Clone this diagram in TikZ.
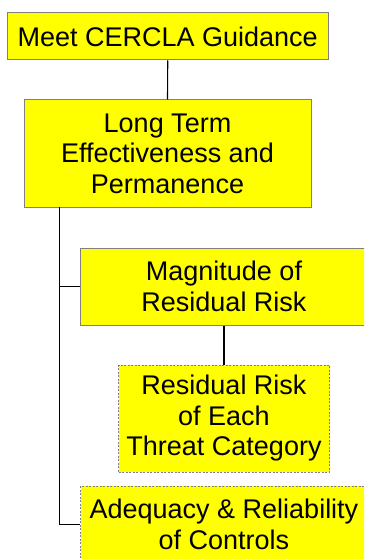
\documentclass[tikz,border=0pt]{standalone}
\usepackage{fontspec}
\setmainfont{Liberation Sans}
\definecolor{boxyellow}{RGB}{255,255,0}
\definecolor{edgegray}{RGB}{128,128,128}
\tikzset{
  box/.style={rectangle, draw=edgegray, fill=boxyellow, line width=1pt, inner sep=0pt,
    align=center, font=\fontsize{27}{30.5}\selectfont},
  dotbox/.style={box, dash pattern=on 2pt off 1.5pt},
  link/.style={draw=black, line width=1.1pt}
}
\begin{document}
\begin{tikzpicture}[x=1pt,y=-1pt]
\useasboundingbox (0,0) rectangle (364,559);
\clip (0,0) rectangle (364,559);
\node[box, minimum width=320.5pt, minimum height=47pt] (b1) at (167.75,36.5) {Meet CERCLA Guidance};
\node[box, minimum width=287pt, minimum height=107pt] (b2) at (167.5,153.5) {Long Term\\Effectiveness and\\Permanence};
\node[box, minimum width=287pt, minimum height=77pt] (b3) at (224,286.5) {Magnitude of\\Residual Risk};
\node[dotbox, minimum width=211pt, minimum height=107pt] (b4) at (224,418.5) {Residual Risk\\of Each\\Threat Category};
\node[dotbox, minimum width=287pt, minimum height=77pt] (b5) at (224,524.5) {Adequacy \& Reliability\\of Controls};
\coordinate (t) at (59.5,207);
\draw[link] (b1.south) -- (b2.north);
\draw[link] (b3.south) -- (b4.north);
\draw[link] (t) |- (b3.west);
\draw[link] (t) |- (b5.west);
\end{tikzpicture}
\end{document}
